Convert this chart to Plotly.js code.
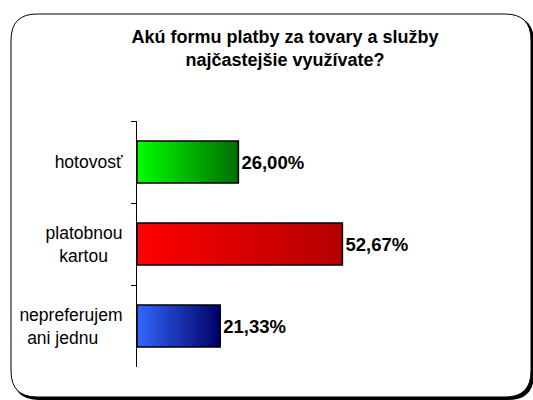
<!DOCTYPE html>
<html><head><meta charset="utf-8">
<script src="https://cdn.plot.ly/plotly-3.0.1.min.js"></script>
<style>html,body{margin:0;padding:0;background:#fff}#chart{width:533px;height:400px}</style>
</head><body><div id="chart"></div>
<script>
const categories = ['hotovosť', 'platobnou<br>kartou\u00a0\u00a0\u00a0', 'nepreferujem<br>ani jednu\u00a0\u00a0\u00a0\u00a0\u00a0'];
const values = [26.00, 52.67, 21.33];
const colorsStart = ['#00FF00', '#FF0000', '#3366FF'];
const colorsEnd = ['#006E00', '#B40000', '#000066'];
const colorsMid = ['#00A000', '#DA0000', '#1A33B0'];
const titleLines = ['Akú formu platby za tovary a služby', 'najčastejšie využívate?'];

const W = 533, H = 400, L = 137, R = 371, T = 121, B = 367;
function px(x) { return (x - L) / (R - L); }
function py(y) { return (B - y) / (B - T); }
function rrect(x0, y0, x1, y1, r) {
  return `M${px(x0 + r)},${py(y0)} L${px(x1 - r)},${py(y0)} Q${px(x1)},${py(y0)} ${px(x1)},${py(y0 + r)} ` +
    `L${px(x1)},${py(y1 - r)} Q${px(x1)},${py(y1)} ${px(x1 - r)},${py(y1)} ` +
    `L${px(x0 + r)},${py(y1)} Q${px(x0)},${py(y1)} ${px(x0)},${py(y1 - r)} ` +
    `L${px(x0)},${py(y0 + r)} Q${px(x0)},${py(y0)} ${px(x0 + r)},${py(y0)} Z`;
}

const data = [{
  type: 'bar',
  orientation: 'h',
  y: categories,
  x: values,
  marker: { color: colorsMid, line: { color: '#000000', width: 1.5 } },
  texttemplate: '%{x:.2f}%',
  textposition: 'outside',
  cliponaxis: false,
  textfont: { family: 'Liberation Sans, Arial, sans-serif', size: 18.5, color: '#000000', weight: 'bold' },
  hoverinfo: 'skip'
}];

const layout = {
  width: W, height: H,
  margin: { l: L, r: W - R, t: T, b: H - B, pad: 0 },
  paper_bgcolor: '#ffffff',
  plot_bgcolor: 'rgba(0,0,0,0)',
  separators: ', ',
  showlegend: false,
  bargap: 0.49,
  font: { family: 'Liberation Sans, Arial, sans-serif', color: '#000000' },
  title: {
    text: titleLines[0] + '<br>' + titleLines[1],
    font: { family: 'Liberation Sans, Arial, sans-serif', size: 18, color: '#000000', weight: 'bold' },
    xref: 'container', x: 285 / W, xanchor: 'center',
    yref: 'container', y: 1 - 43 / H, yanchor: 'top'
  },
  xaxis: { range: [0, 60], visible: false, showgrid: false, zeroline: false, fixedrange: true },
  yaxis: {
    type: 'category', categoryarray: categories, categoryorder: 'array', autorange: 'reversed',
    showline: true, linecolor: '#000000', linewidth: 1,
    ticks: 'outside', ticklen: 5, tickcolor: '#000000', tickwidth: 1, tickson: 'boundaries',
    ticklabelstandoff: 10,
    showgrid: false, zeroline: false,
    tickfont: { family: 'Liberation Sans, Arial, sans-serif', size: 17.5, color: '#000000' }
  },
  shapes: [
    { type: 'path', xref: 'paper', yref: 'paper', layer: 'below', path: rrect(13, 16, 534, 400, 26),
      fillcolor: '#000000', line: { width: 0 } },
    { type: 'path', xref: 'paper', yref: 'paper', layer: 'below', path: rrect(11, 14, 531, 397, 26),
      fillcolor: '#ffffff', line: { color: '#000000', width: 1 } }
  ]
};

Plotly.newPlot('chart', data, layout, { staticPlot: true, displayModeBar: false }).then(gd => {
  const svg = gd.querySelector('svg.main-svg');
  const ns = 'http://www.w3.org/2000/svg';
  let defs = svg.querySelector('defs');
  if (!defs) { defs = document.createElementNS(ns, 'defs'); svg.insertBefore(defs, svg.firstChild); }
  values.forEach((v, i) => {
    const g = document.createElementNS(ns, 'linearGradient');
    g.setAttribute('id', 'barGrad' + i);
    g.setAttribute('x1', '0'); g.setAttribute('y1', '0');
    g.setAttribute('x2', '1'); g.setAttribute('y2', '0');
    [[0, colorsStart[i]], [1, colorsEnd[i]]].forEach(([o, c]) => {
      const s = document.createElementNS(ns, 'stop');
      s.setAttribute('offset', o); s.setAttribute('stop-color', c);
      g.appendChild(s);
    });
    defs.appendChild(g);
  });
  gd.querySelectorAll('.barlayer .point path').forEach((p, i) => {
    p.style.fill = 'url(#barGrad' + i + ')';
  });
});
</script>
</body></html>
